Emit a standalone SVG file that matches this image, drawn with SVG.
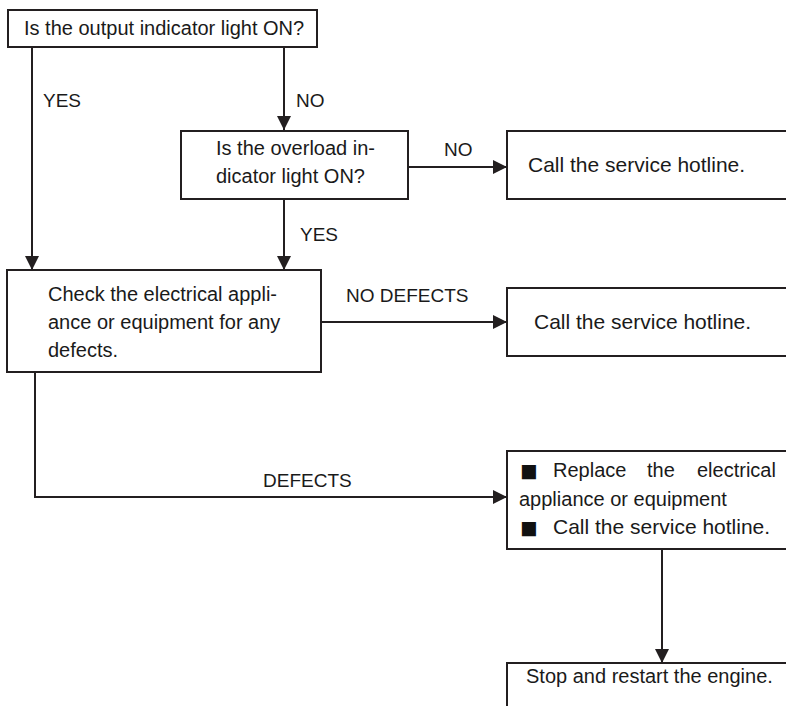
<svg xmlns="http://www.w3.org/2000/svg" width="786" height="706" viewBox="0 0 786 706">
<style>
.box{fill:#fff;stroke:#231f20;stroke-width:2}
.t{font-family:"Liberation Sans",Arial,sans-serif;font-size:20px;fill:#1a1a1a}
.t21{font-size:21px}
.bul{font-family:"Liberation Sans",Arial,sans-serif;font-size:29px;fill:#111}
.lbl{font-family:"Liberation Sans",Arial,sans-serif;font-size:19px;fill:#1a1a1a}
.c{fill:none;stroke:#231f20;stroke-width:2}
</style>
<defs>
<marker id="ah" markerUnits="userSpaceOnUse" markerWidth="15" markerHeight="14" refX="14" refY="7" orient="auto">
<path d="M0,0 L14,7 L0,14 z" fill="#231f20"/>
</marker>
</defs>
<rect width="786" height="706" fill="#fff"/>
<g id="connectors">
<line class="c" x1="32" y1="47" x2="32" y2="270" marker-end="url(#ah)"/>
<line class="c" x1="284" y1="47" x2="284" y2="130" marker-end="url(#ah)"/>
<line class="c" x1="408" y1="167" x2="507" y2="167" marker-end="url(#ah)"/>
<line class="c" x1="284" y1="199" x2="284" y2="270" marker-end="url(#ah)"/>
<line class="c" x1="321" y1="322" x2="507" y2="322" marker-end="url(#ah)"/>
<path class="c" d="M35,372 V497 H507" marker-end="url(#ah)"/>
<line class="c" x1="662" y1="549" x2="662" y2="663" marker-end="url(#ah)"/>
<text class="lbl" x="43" y="107">YES</text>
<text class="lbl" x="296" y="107">NO</text>
<text class="lbl" x="444" y="156">NO</text>
<text class="lbl" x="300" y="241">YES</text>
<text class="lbl" x="346" y="302">NO DEFECTS</text>
<text class="lbl" x="263" y="487">DEFECTS</text>
</g>
<g id="q1">
<rect class="box" x="8" y="10" width="309" height="37"/>
<text class="t" x="24" y="35">Is the output indicator light ON?</text>
</g>
<g id="q2">
<rect class="box" x="181" y="131" width="227" height="68"/>
<text class="t" x="216" y="155">Is the overload in-</text>
<text class="t" x="216" y="183">dicator light ON?</text>
</g>
<g id="hotline1">
<rect class="box" x="507" y="131" width="300" height="68"/>
<text class="t t21" x="528" y="172">Call the service hotline.</text>
</g>
<g id="check">
<rect class="box" x="7" y="270" width="314" height="102"/>
<text class="t" x="48" y="301">Check the electrical appli-</text>
<text class="t" x="48" y="329">ance or equipment for any</text>
<text class="t" x="48" y="357">defects.</text>
</g>
<g id="hotline2">
<rect class="box" x="507" y="288" width="300" height="68"/>
<text class="t t21" x="534" y="329">Call the service hotline.</text>
</g>
<g id="replace">
<rect class="box" x="507" y="451" width="300" height="98"/>
<text class="bul" x="520" y="481">■</text>
<text class="t" y="477"><tspan x="553">Replace</tspan><tspan x="647">the</tspan><tspan x="697">electrical</tspan></text>
<text class="t" x="519" y="506">appliance or equipment</text>
<text class="bul" x="520" y="538">■</text>
<text class="t t21" x="553" y="534">Call the service hotline.</text>
</g>
<g id="restart">
<rect class="box" x="507" y="663" width="300" height="60"/>
<text class="t" x="526" y="683">Stop and restart the engine.</text>
</g>
</svg>
